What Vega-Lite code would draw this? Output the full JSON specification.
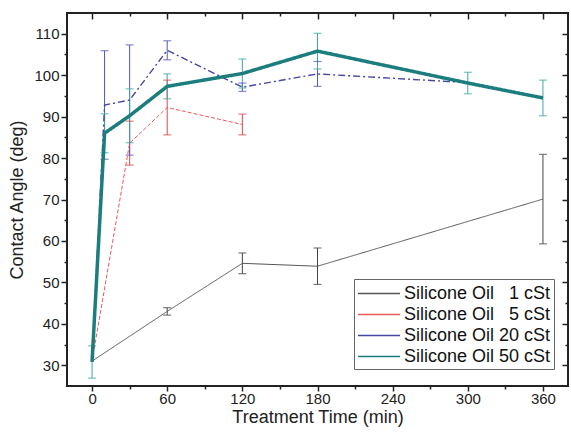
{
  "$schema": "https://vega.github.io/schema/vega-lite/v6.json",
  "width": 501,
  "height": 373,
  "autosize": {"type": "none"},
  "padding": {"left": 67, "top": 13, "right": 3, "bottom": 48},
  "background": "white",
  "config": {
    "view": {"stroke": "#222", "strokeWidth": 2},
    "font": "Liberation Sans"
  },
  "data": {
    "values": [
      {"series": "Silicone Oil \u20071 cSt", "t": 0, "v": 31.0, "lo": null, "hi": null},
      {"series": "Silicone Oil \u20071 cSt", "t": 60, "v": 43.0, "lo": 42.1, "hi": 43.9},
      {"series": "Silicone Oil \u20071 cSt", "t": 120, "v": 54.6, "lo": 52.1, "hi": 57.1},
      {"series": "Silicone Oil \u20071 cSt", "t": 180, "v": 53.9, "lo": 49.5, "hi": 58.3},
      {"series": "Silicone Oil \u20071 cSt", "t": 360, "v": 70.1, "lo": 59.3, "hi": 80.9},
      {"series": "Silicone Oil \u20075 cSt", "t": 0, "v": 31.0, "lo": null, "hi": null},
      {"series": "Silicone Oil \u20075 cSt", "t": 30, "v": 83.6, "lo": 78.3, "hi": 88.9},
      {"series": "Silicone Oil \u20075 cSt", "t": 60, "v": 92.2, "lo": 85.6, "hi": 98.8},
      {"series": "Silicone Oil \u20075 cSt", "t": 120, "v": 88.1, "lo": 85.6, "hi": 90.6},
      {"series": "Silicone Oil 20 cSt", "t": 0, "v": 31.0, "lo": null, "hi": null},
      {"series": "Silicone Oil 20 cSt", "t": 10, "v": 92.8, "lo": 79.7, "hi": 105.9},
      {"series": "Silicone Oil 20 cSt", "t": 30, "v": 94.0, "lo": 80.7, "hi": 107.3},
      {"series": "Silicone Oil 20 cSt", "t": 60, "v": 106.0, "lo": 103.7, "hi": 108.3},
      {"series": "Silicone Oil 20 cSt", "t": 120, "v": 97.1, "lo": 96.1, "hi": 98.1},
      {"series": "Silicone Oil 20 cSt", "t": 180, "v": 100.3, "lo": 97.3, "hi": 103.3},
      {"series": "Silicone Oil 20 cSt", "t": 300, "v": 98.2, "lo": null, "hi": null},
      {"series": "Silicone Oil 50 cSt", "t": 0, "v": 30.8, "lo": 26.9, "hi": 34.7},
      {"series": "Silicone Oil 50 cSt", "t": 10, "v": 86.0, "lo": 81.3, "hi": 90.7},
      {"series": "Silicone Oil 50 cSt", "t": 30, "v": 90.2, "lo": 83.7, "hi": 96.7},
      {"series": "Silicone Oil 50 cSt", "t": 60, "v": 97.3, "lo": 94.3, "hi": 100.3},
      {"series": "Silicone Oil 50 cSt", "t": 120, "v": 100.4, "lo": 96.9, "hi": 103.9},
      {"series": "Silicone Oil 50 cSt", "t": 180, "v": 105.8, "lo": 101.5, "hi": 110.1},
      {"series": "Silicone Oil 50 cSt", "t": 300, "v": 98.1, "lo": 95.5, "hi": 100.7},
      {"series": "Silicone Oil 50 cSt", "t": 360, "v": 94.5, "lo": 90.2, "hi": 98.8}
    ]
  },
  "layer": [
    {
      "mark": {"type": "point", "opacity": 0},
      "encoding": {
        "x": {
          "field": "t", "type": "quantitative",
          "scale": {"domain": [-20, 380], "nice": false, "zero": false},
          "axis": {
            "orient": "top", "title": null, "labels": false, "domain": false, "grid": false,
            "values": [0, 30, 60, 90, 120, 150, 180, 210, 240, 270, 300, 330, 360],
            "tickColor": "#222", "tickWidth": 1.5,
            "tickSize": {"condition": {"test": "datum.value % 60 == 0", "value": -6}, "value": -3}
          }
        },
        "y": {
          "field": "v", "type": "quantitative",
          "scale": {"domain": [25, 115], "nice": false, "zero": false},
          "axis": {
            "orient": "right", "title": null, "labels": false, "domain": false, "grid": false,
            "values": [30, 35, 40, 45, 50, 55, 60, 65, 70, 75, 80, 85, 90, 95, 100, 105, 110],
            "tickColor": "#222", "tickWidth": 1.5,
            "tickSize": {"condition": {"test": "datum.value % 10 == 0", "value": -6}, "value": -3}
          }
        }
      }
    },
    {
      "mark": {"type": "rule", "strokeWidth": 1},
      "encoding": {
        "x": {"field": "t", "type": "quantitative", "axis": null},
        "y": {"field": "lo", "type": "quantitative", "axis": null},
        "y2": {"field": "hi"},
        "color": {
          "field": "series", "type": "nominal", "legend": null,
          "scale": {
            "domain": ["Silicone Oil \u20071 cSt", "Silicone Oil \u20075 cSt", "Silicone Oil 20 cSt", "Silicone Oil 50 cSt"],
            "range": ["#444444", "#e04848", "#5058b0", "#3fa6a6"]
          }
        }
      }
    },
    {
      "mark": {"type": "tick", "orient": "horizontal", "size": 8, "thickness": 1.2},
      "encoding": {
        "x": {"field": "t", "type": "quantitative", "axis": null},
        "y": {"field": "lo", "type": "quantitative", "axis": null},
        "color": {
          "field": "series", "type": "nominal", "legend": null,
          "scale": {
            "domain": ["Silicone Oil \u20071 cSt", "Silicone Oil \u20075 cSt", "Silicone Oil 20 cSt", "Silicone Oil 50 cSt"],
            "range": ["#444444", "#e04848", "#5058b0", "#3fa6a6"]
          }
        }
      }
    },
    {
      "mark": {"type": "tick", "orient": "horizontal", "size": 8, "thickness": 1.2},
      "encoding": {
        "x": {"field": "t", "type": "quantitative", "axis": null},
        "y": {"field": "hi", "type": "quantitative", "axis": null},
        "color": {
          "field": "series", "type": "nominal", "legend": null,
          "scale": {
            "domain": ["Silicone Oil \u20071 cSt", "Silicone Oil \u20075 cSt", "Silicone Oil 20 cSt", "Silicone Oil 50 cSt"],
            "range": ["#444444", "#e04848", "#5058b0", "#3fa6a6"]
          }
        }
      }
    },
    {
      "mark": {"type": "line"},
      "encoding": {
        "x": {
          "field": "t", "type": "quantitative",
          "axis": {
            "orient": "bottom", "title": "Treatment Time (min)", "domain": false, "grid": false,
            "values": [0, 30, 60, 90, 120, 150, 180, 210, 240, 270, 300, 330, 360],
            "labelExpr": "datum.value % 60 == 0 ? datum.label : ''",
            "labelOverlap": false, "labelFlush": false,
            "labelFontSize": 15, "labelColor": "#222", "labelPadding": 0,
            "tickColor": "#222", "tickWidth": 1.5,
            "tickSize": {"condition": {"test": "datum.value % 60 == 0", "value": 5}, "value": 3},
            "titleFontSize": 18, "titleFontWeight": "normal", "titleColor": "#222", "titlePadding": 2
          }
        },
        "y": {
          "field": "v", "type": "quantitative",
          "axis": {
            "orient": "left", "title": "Contact Angle (deg)", "domain": false, "grid": false,
            "values": [30, 35, 40, 45, 50, 55, 60, 65, 70, 75, 80, 85, 90, 95, 100, 105, 110],
            "labelExpr": "datum.value % 10 == 0 ? datum.label : ''",
            "labelOverlap": false, "labelFlush": false,
            "labelFontSize": 15, "labelColor": "#222", "labelPadding": 2,
            "tickColor": "#222", "tickWidth": 1.5,
            "tickSize": {"condition": {"test": "datum.value % 10 == 0", "value": 6}, "value": 3},
            "titleFontSize": 18, "titleFontWeight": "normal", "titleColor": "#222", "titlePadding": 7
          }
        },
        "color": {
          "field": "series", "type": "nominal", "title": null,
          "scale": {
            "domain": ["Silicone Oil \u20071 cSt", "Silicone Oil \u20075 cSt", "Silicone Oil 20 cSt", "Silicone Oil 50 cSt"],
            "range": ["#555555", "#e85a5a", "#4545a2", "#1b7d7d"]
          },
          "legend": {
            "orient": "none", "legendX": 287, "legendY": 266,
            "fillColor": "white", "strokeColor": "#666", "padding": 3,
            "symbolType": "M-1,0H3", "symbolSize": 441,
            "labelFontSize": 18, "labelColor": "#111", "labelOffset": 24, "rowPadding": 0
          }
        },
        "strokeDash": {
          "field": "series", "type": "nominal", "title": null,
          "scale": {
            "domain": ["Silicone Oil \u20071 cSt", "Silicone Oil \u20075 cSt", "Silicone Oil 20 cSt", "Silicone Oil 50 cSt"],
            "range": [[1, 0], [4, 2], [7, 3, 2, 3], [1, 0]]
          }
        },
        "strokeWidth": {
          "field": "series", "type": "nominal", "title": null,
          "scale": {
            "type": "ordinal",
            "domain": ["Silicone Oil \u20071 cSt", "Silicone Oil \u20075 cSt", "Silicone Oil 20 cSt", "Silicone Oil 50 cSt"],
            "range": [1, 1, 1.4, 3.5]
          }
        }
      }
    }
  ],
  "resolve": {
    "scale": {"color": "independent"},
    "axis": {"x": "independent", "y": "independent"}
  }
}
